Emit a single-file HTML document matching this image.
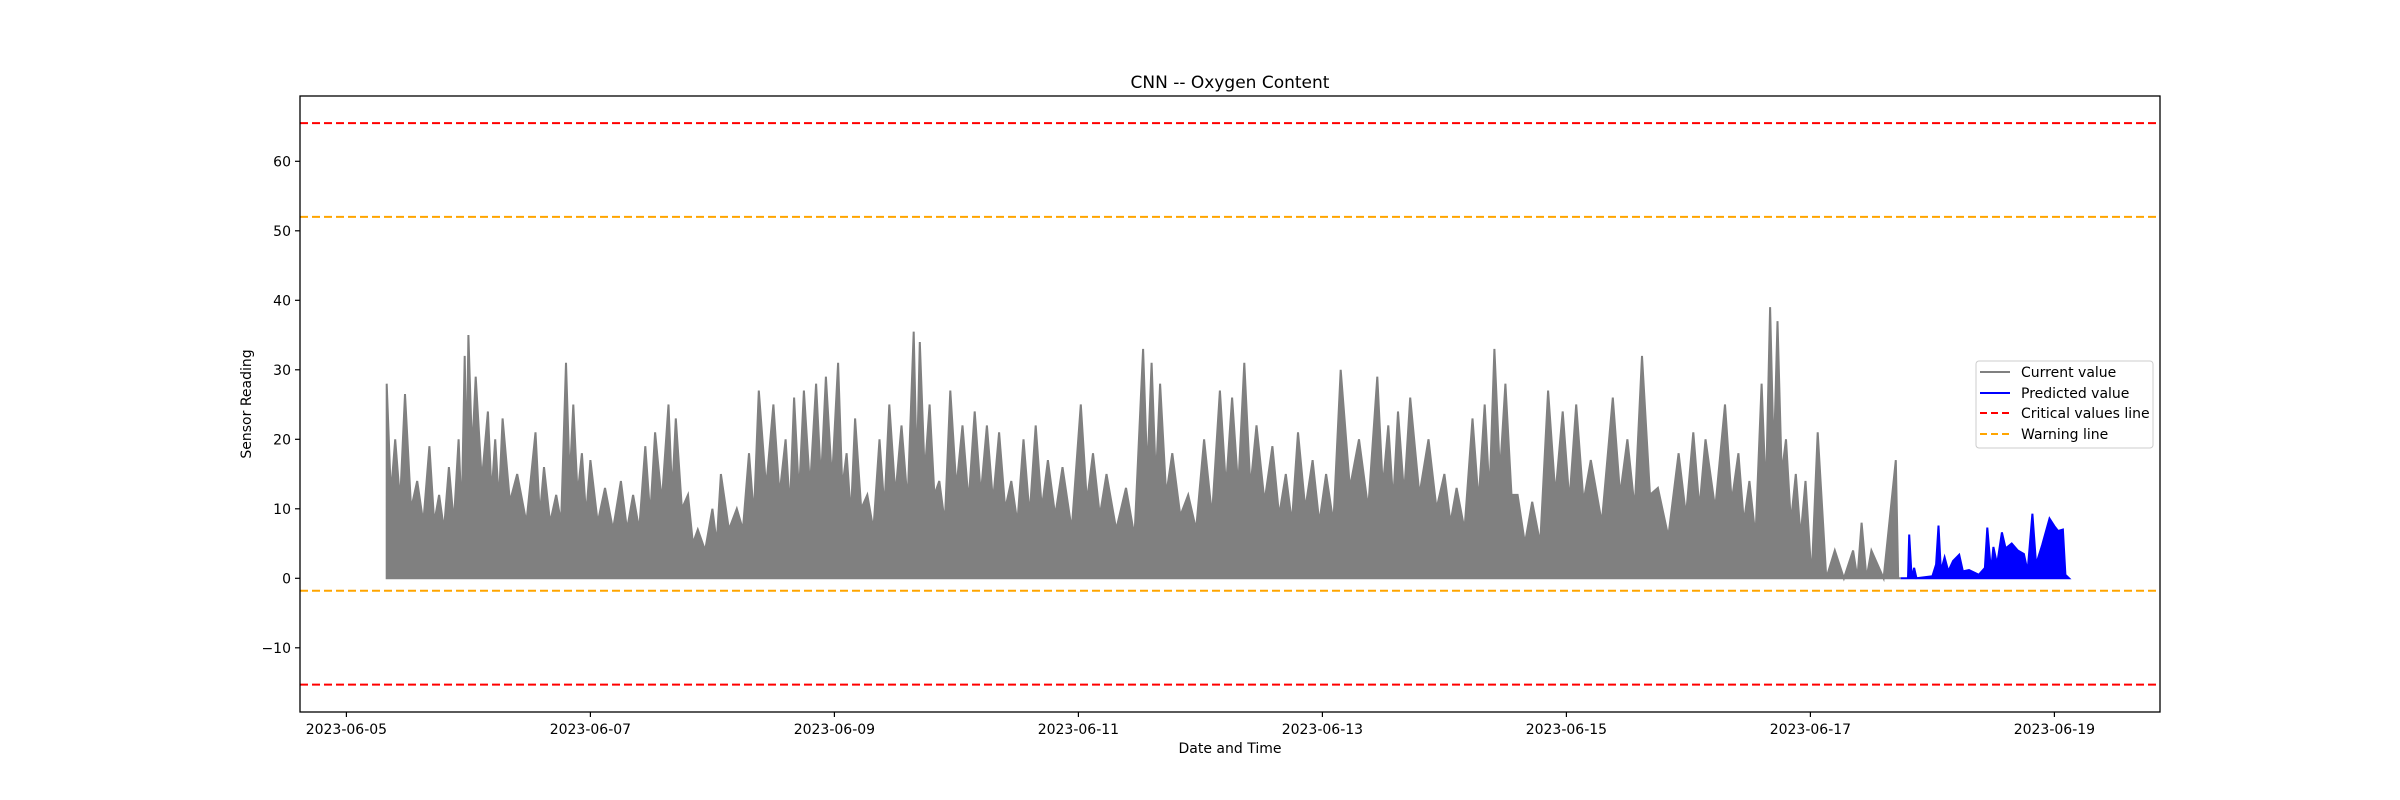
<!DOCTYPE html>
<html><head><meta charset="utf-8"><style>
html,body{margin:0;padding:0;background:#fff;}
svg{display:block;font-family:"DejaVu Sans","Liberation Sans",sans-serif;}
</style></head><body>
<svg id="chart" width="2400" height="800" viewBox="0 0 2400 800" xmlns="http://www.w3.org/2000/svg">
<rect x="0" y="0" width="2400" height="800" fill="#fff"/>
<text x="1230" y="88" font-size="17" text-anchor="middle" fill="#000">CNN -- Oxygen Content</text>
<g id="plot"></g>
<g id="axes"></g>
<text x="0" y="0" font-size="14" text-anchor="middle" transform="translate(251,404) rotate(-90)">Sensor Reading</text>
<text x="1230" y="753" font-size="14" text-anchor="middle">Date and Time</text>
<g>
<rect x="1976" y="361" width="177" height="87" rx="3" fill="#fff" stroke="#ccc" stroke-width="1"/>
<line x1="1980" y1="372" x2="2010" y2="372" stroke="#808080" stroke-width="2"/>
<text x="2021" y="377" font-size="14">Current value</text>
<line x1="1980" y1="393" x2="2010" y2="393" stroke="#0000ff" stroke-width="2"/>
<text x="2021" y="398" font-size="14">Predicted value</text>
<line x1="1980" y1="413" x2="2010" y2="413" stroke="#ff0000" stroke-width="2" stroke-dasharray="7,4"/>
<text x="2021" y="418" font-size="14">Critical values line</text>
<line x1="1980" y1="434" x2="2010" y2="434" stroke="#ffa500" stroke-width="2" stroke-dasharray="7,4"/>
<text x="2021" y="439" font-size="14">Warning line</text>
</g>
</svg>
<script>
const peakTimes=[0.33,0.40,0.48,0.58,0.68,0.76,0.84,0.92,0.97,1.00,1.06,1.16,1.22,1.28,1.40,1.55,1.62,1.72,1.80,1.86,1.93,2.00,2.12,2.25,2.35,2.45,2.53,2.64,2.70,2.80,2.88,3.00,3.07,3.20,3.30,3.38,3.50,3.60,3.67,3.75,3.85,3.93,4.03,4.10,4.17,4.27,4.37,4.45,4.55,4.65,4.70,4.78,4.86,4.95,5.05,5.15,5.25,5.35,5.45,5.55,5.65,5.75,5.87,6.02,6.12,6.23,6.39,6.53,6.60,6.67,6.77,6.90,7.03,7.16,7.26,7.36,7.46,7.59,7.70,7.80,7.92,8.03,8.15,8.30,8.45,8.54,8.62,8.72,8.87,9.00,9.10,9.23,9.33,9.41,9.50,9.60,9.72,9.85,9.97,10.08,10.20,10.38,10.50,10.62,10.75,10.92,11.04,11.14,11.30,11.41,11.50,11.60,11.67,11.73,11.80,11.88,11.96,12.06,12.20,12.35,12.42,12.50,12.70];
const peakValues=[28,20,26.5,14,19,12,16,20,32,35,29,24,20,23,15,21,16,12,31,25,18,17,13,14,12,19,21,25,23,12,7,10,15,10,18,27,25,20,26,27,28,29,31,18,23,12,20,25,22,35.5,34,25,14,27,22,24,22,21,14,20,22,17,16,25,18,15,13,33,31,28,18,12,20,27,26,31,22,19,15,21,17,15,30,20,29,22,24,26,20,15,13,23,25,33,28,12,11,27,24,25,17,26,20,32,13,18,21,20,25,18,14,28,39,37,20,15,14,21,4,4,8,4,17];
const valleyValues=[12,11,10,8,8,7,8,9,16,18,14,12,11,11,8,9,8,8,14,12,9,8,7,7,7,9,11,12,10,5,4,5,7,7,9,13,12,10,12,13,14,14,13,9,10,7,10,12,11,15,15,12,8,13,11,12,11,10,8,9,10,9,7,11,9,7,6,15,14,12,9,7,9,13,13,13,11,9,8,10,8,8,13,10,13,11,12,12,10,8,7,11,12,15,12,5,5,12,11,11,8,12,10,12,6,9,10,10,11,8,6,12,17,15,8,6,0,0,0,0,0,0,0];
const predTimes=[12.74,12.80,12.81,12.83,12.85,12.87,13.00,13.03,13.05,13.07,13.10,13.13,13.17,13.22,13.25,13.30,13.38,13.43,13.45,13.48,13.50,13.53,13.57,13.60,13.65,13.70,13.75,13.78,13.82,13.85,13.90,13.96,14.00,14.03,14.07,14.09,14.12];
const predValues=[0,0,6.3,0,1.5,0,0.3,2,7.6,1,3,1,2.5,3.4,1,1.2,0.5,1.5,7.3,1,4.5,2,6.6,4.3,5,4,3.5,1,9.3,2,4.8,8.6,7.5,6.8,7,0.5,0];
const yTicks=[-10,0,10,20,30,40,50,60];
const xTickDays=[0,2,4,6,8,10,12,14];
const xTickLabels=["2023-06-05","2023-06-07","2023-06-09","2023-06-11","2023-06-13","2023-06-15","2023-06-17","2023-06-19"];
const criticalLevels=[65.5,-15.3];
const warningLevels=[52,-1.8];

const X0=300,X1=2160,Y0=96,Y1=712;
function xs(d){return 346.4+122*d;}
function ys(v){return 578.3-6.95*v;}
const NS="http://www.w3.org/2000/svg";
const plot=document.getElementById('plot');
const axes=document.getElementById('axes');
function mk(tag,attrs,parent){const e=document.createElementNS(NS,tag);for(const k in attrs)e.setAttribute(k,attrs[k]);parent.appendChild(e);return e;}

// current series (area + outline)
let pts=[[xs(peakTimes[0]),ys(0)]];
for(let i=0;i<peakTimes.length;i++){
  pts.push([xs(peakTimes[i]),ys(peakValues[i])]);
  const tn=i<peakTimes.length-1?(peakTimes[i]+peakTimes[i+1])/2:peakTimes[i]+0.02;
  pts.push([xs(tn),ys(valleyValues[i])]);
}
pts.push([xs(predTimes[0]),ys(0)]);
const ptStr=pts.map(p=>p[0].toFixed(1)+','+p[1].toFixed(1)).join(' ');
const cur=mk('polygon',{points:ptStr+' '+xs(peakTimes[0]).toFixed(1)+','+ys(0).toFixed(1),fill:'#808080',stroke:'#808080','stroke-width':2,'stroke-linejoin':'miter'},plot);



// predicted series
const pp=predTimes.map((t,i)=>xs(t).toFixed(1)+','+ys(predValues[i]).toFixed(1)).join(' ');
const pred=mk('polygon',{points:pp,fill:'#0000ff',stroke:'#0000ff','stroke-width':2},plot);



// threshold lines
criticalLevels.forEach(v=>{
  const l=mk('line',{x1:X0,x2:X1,y1:ys(v),y2:ys(v),stroke:'#ff0000','stroke-width':2,'stroke-dasharray':'8,4'},plot);
  
  
});
warningLevels.forEach(v=>{
  const l=mk('line',{x1:X0,x2:X1,y1:ys(v),y2:ys(v),stroke:'#ffa500','stroke-width':2,'stroke-dasharray':'8,4'},plot);
  
  
});

// frame
const fr=mk('rect',{x:X0,y:Y0,width:X1-X0,height:Y1-Y0,fill:'none',stroke:'#000','stroke-width':1.3},axes);



yTicks.forEach(v=>{
  const y=ys(v);
  const t=mk('line',{x1:X0-5,x2:X0,y1:y,y2:y,stroke:'#000','stroke-width':1.2},axes);
  
  
  const tx=mk('text',{x:X0-9,y:y+5,'font-size':14,'text-anchor':'end'},axes);
  tx.textContent=v<0?'\u2212'+Math.abs(v):String(v);
  
  
});
xTickDays.forEach((d,i)=>{
  const x=xs(d);
  const t=mk('line',{x1:x,x2:x,y1:Y1,y2:Y1+5,stroke:'#000','stroke-width':1.2},axes);
  
  
  const tx=mk('text',{x:x,y:Y1+22,'font-size':14,'text-anchor':'middle'},axes);
  tx.textContent=xTickLabels[i];
  
  
});
</script>
</body></html>
